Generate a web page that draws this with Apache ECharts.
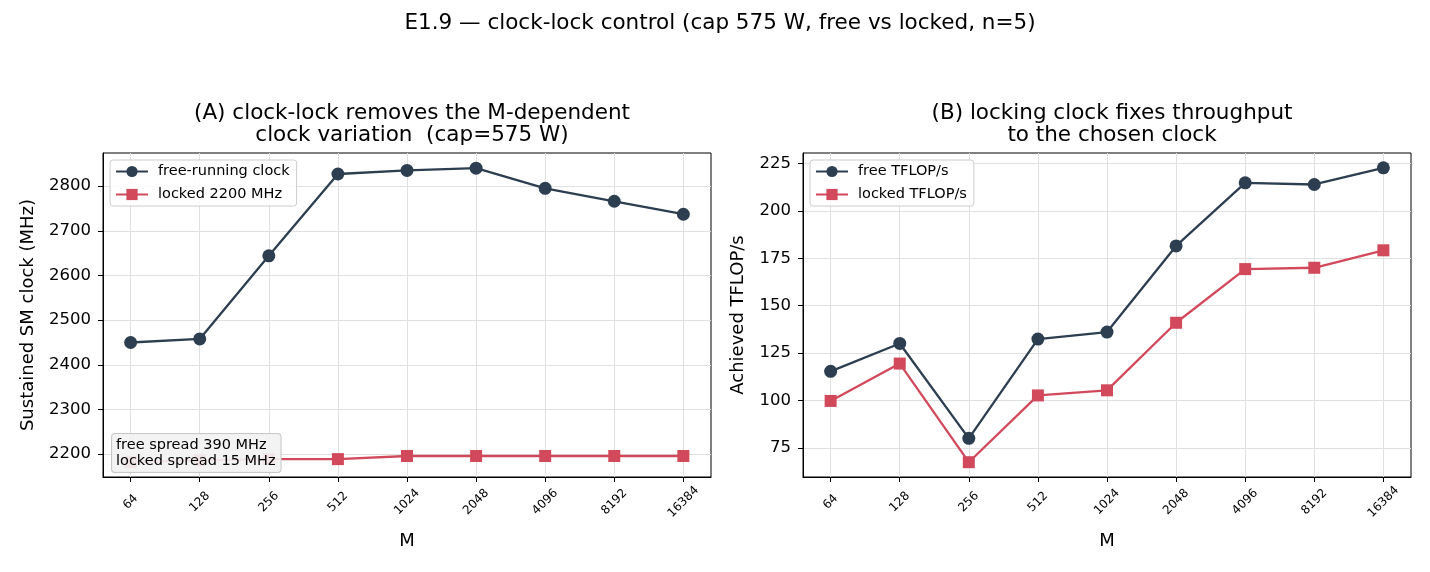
<!DOCTYPE html>
<html><head><meta charset="utf-8">
<script src="https://cdn.jsdelivr.net/npm/echarts@6/dist/echarts.min.js"></script>
<style>html,body{margin:0;padding:0;background:#fff}#c{width:1430px;height:572px}</style>
</head><body><div id="c"></div>
<script>
const categories = ['64','128','256','512','1024','2048','4096','8192','16384'];
const freeClock = [2450, 2458, 2644, 2827, 2835, 2840, 2795, 2766, 2737];
const lockedClock = [2182, 2186, 2189, 2189, 2196, 2196, 2196, 2196, 2196];
const freeTflops = [115.4, 130.1, 80.1, 132.4, 136.1, 181.5, 214.8, 213.9, 222.7];
const lockedTflops = [99.8, 119.5, 67.5, 102.7, 105.4, 141.0, 169.3, 170.0, 179.2];
const clockTicks = [2200, 2300, 2400, 2500, 2600, 2700, 2800];
const tflopTicks = [75, 100, 125, 150, 175, 200, 225];
const mainTitle = 'E1.9 \u2014 clock-lock control (cap 575 W, free vs locked, n=5)';
const titleA = '(A) clock-lock removes the M-dependent\nclock variation  (cap=575 W)';
const titleB = '(B) locking clock fixes throughput\nto the chosen clock';
const annotation = 'free spread 390 MHz\nlocked spread 15 MHz';

const FONT = 'DejaVu Sans';
const NAVY = '#2c3e50', RED = '#d1495b';
const idx = categories.map((_, i) => i);
const pairs = arr => arr.map((v, i) => [i, v]);

function xAxis(gi) {
  return {
    type: 'value', gridIndex: gi, min: -0.4, max: 8.4,
    name: 'M', nameLocation: 'middle', nameGap: 55,
    nameTextStyle: {fontFamily: FONT, fontSize: 18, color: '#000'},
    axisLine: {show: true, onZero: false, lineStyle: {color: '#000', width: 1}},
    axisTick: {show: true, length: 5, customValues: idx, lineStyle: {color: '#000'}},
    axisLabel: {customValues: idx, formatter: v => categories[Math.round(v)], rotate: 45,
      align: 'center', verticalAlign: 'middle', margin: 25,
      fontFamily: FONT, fontSize: 12, color: '#000'},
    splitLine: {show: true, lineStyle: {color: '#e0e0e0', width: 1}}
  };
}
function yAxis(gi, min, max, ticks, name, gap) {
  return {
    type: 'value', gridIndex: gi, min: min, max: max,
    name: name, nameLocation: 'middle', nameGap: gap,
    nameTextStyle: {fontFamily: FONT, fontSize: 18, color: '#000'},
    axisLine: {show: true, onZero: false, lineStyle: {color: '#000', width: 1}},
    axisTick: {show: true, length: 5, customValues: ticks, lineStyle: {color: '#000'}},
    axisLabel: {customValues: ticks, formatter: v => String(v), fontFamily: FONT, fontSize: 16.5, color: '#000', margin: 12},
    splitLine: {show: true, lineStyle: {color: '#e0e0e0', width: 1}}
  };
}
function line(name, data, color, symbol, gi, size) {
  return {
    type: 'line', name: name, xAxisIndex: gi, yAxisIndex: gi, data: pairs(data),
    symbol: symbol, symbolSize: size, showAllSymbol: true,
    lineStyle: {color: color, width: 2.3}, itemStyle: {color: color},
    emphasis: {disabled: true}, animation: false, z: 3
  };
}
const legendCommon = {
  orient: 'vertical', padding: [4, 7, 4, 5], itemGap: 8, itemWidth: 32, itemHeight: 14,
  backgroundColor: 'rgba(255,255,255,0.85)', borderColor: '#cccccc', borderWidth: 1, borderRadius: 3,
  textStyle: {fontFamily: FONT, fontSize: 14.5, color: '#000', padding: [0, 0, 0, 5]}
};

const chart = echarts.init(document.getElementById('c'), null, {renderer: 'canvas'});
chart.setOption({
  animation: false,
  backgroundColor: '#fff',
  title: [
    {text: mainTitle, left: 715, top: 7, textAlign: 'center',
      textStyle: {fontFamily: FONT, fontSize: 21.5, fontWeight: 'normal', color: '#000'}},
    {text: titleA, left: 407, top: 97, textAlign: 'center',
      textStyle: {fontFamily: FONT, fontSize: 21.5, fontWeight: 'normal', color: '#000', lineHeight: 22.5}},
    {text: titleB, left: 1107, top: 97, textAlign: 'center',
      textStyle: {fontFamily: FONT, fontSize: 21.5, fontWeight: 'normal', color: '#000', lineHeight: 22.5}}
  ],
  grid: [
    {left: 103, top: 153, width: 608, height: 324, show: true, borderColor: '#000', borderWidth: 1, backgroundColor: 'transparent'},
    {left: 803, top: 153, width: 608, height: 324, show: true, borderColor: '#000', borderWidth: 1, backgroundColor: 'transparent'}
  ],
  xAxis: [xAxis(0), xAxis(1)],
  yAxis: [
    yAxis(0, 2149, 2874, clockTicks, 'Sustained SM clock (MHz)', 66),
    yAxis(1, 59.7, 230.5, tflopTicks, 'Achieved TFLOP/s', 56)
  ],
  legend: [
    Object.assign({left: 110, top: 160, data: ['free-running clock', 'locked 2200 MHz']}, legendCommon),
    Object.assign({left: 810, top: 160, data: ['free TFLOP/s', 'locked TFLOP/s']}, legendCommon)
  ],
  series: [
    line('free-running clock', freeClock, NAVY, 'circle', 0, 13),
    line('locked 2200 MHz', lockedClock, RED, 'rect', 0, 12),
    line('free TFLOP/s', freeTflops, NAVY, 'circle', 1, 13),
    line('locked TFLOP/s', lockedTflops, RED, 'rect', 1, 12)
  ],
  graphic: [{
    type: 'text', left: 111, top: 433, z: 100,
    style: {text: annotation, font: '14.5px "DejaVu Sans"', fill: '#000', lineHeight: 16,
      backgroundColor: 'rgba(242,242,242,0.92)', borderColor: '#c8c8c8', borderWidth: 1,
      borderRadius: 3, padding: [3, 5, 3, 4]}
  }]
});
</script></body></html>
